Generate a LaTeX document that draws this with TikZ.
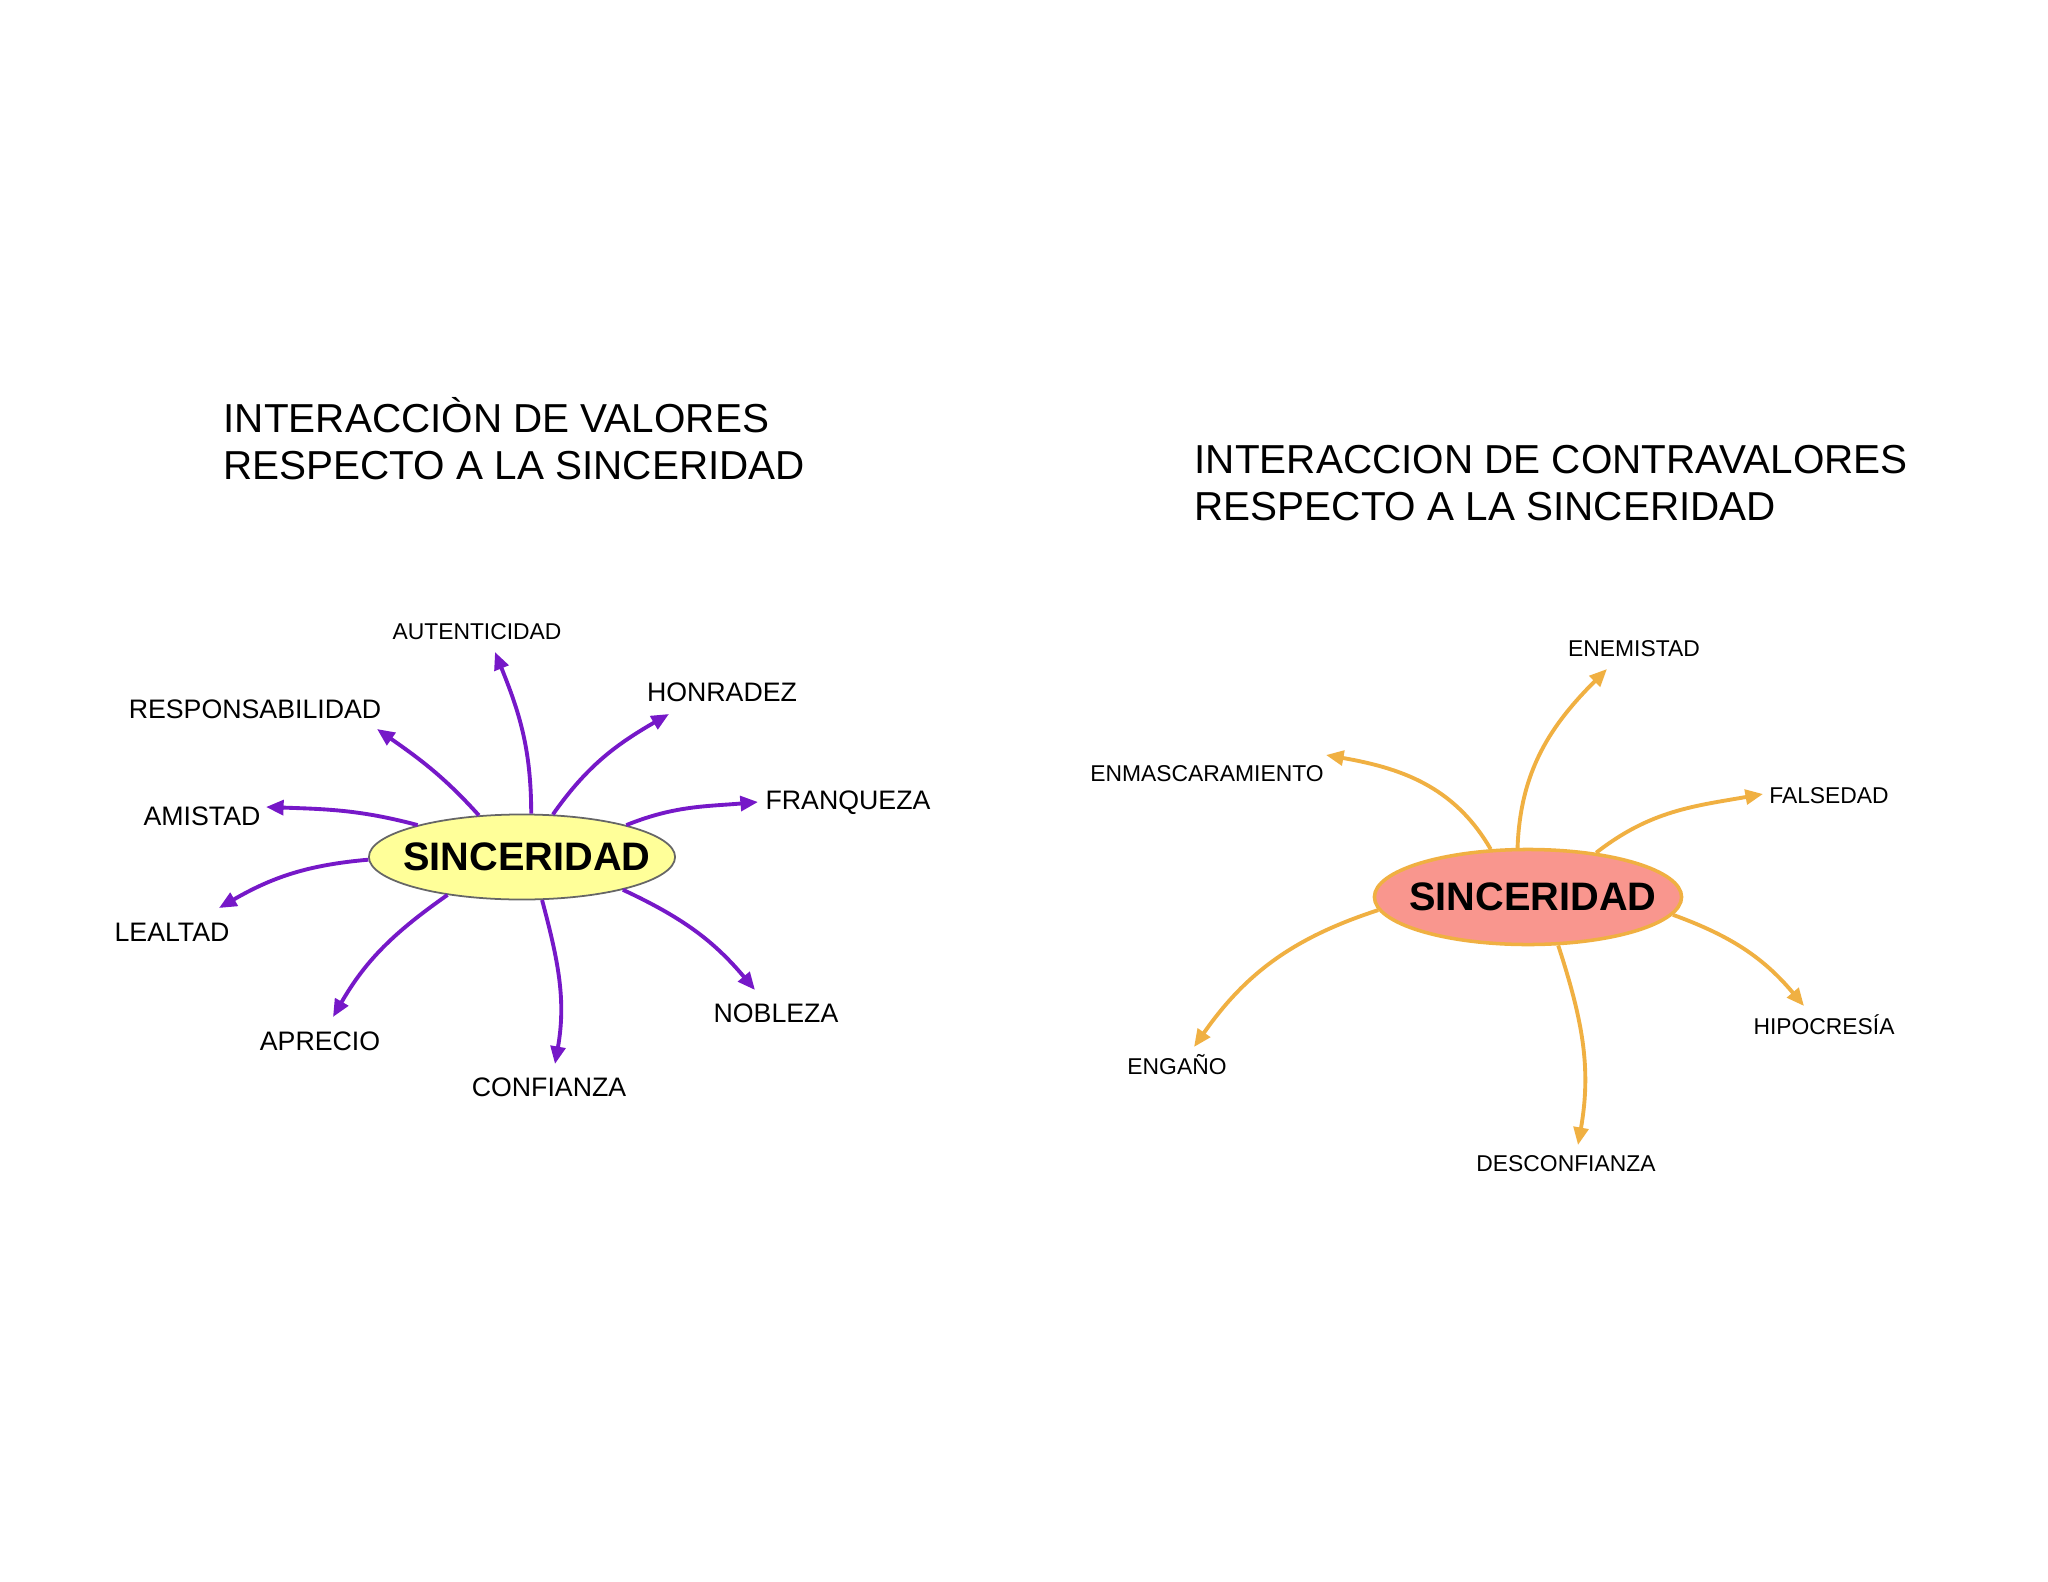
\documentclass[tikz,border=0pt]{standalone}
\usepackage{fontspec}
\setmainfont{Liberation Sans}
\usetikzlibrary{shapes.geometric, arrows.meta}
\definecolor{valpurple}{HTML}{7618C8}
\definecolor{contraorange}{HTML}{F0B042}
\definecolor{coreyellow}{HTML}{FFFF99}
\definecolor{coresalmon}{HTML}{F9968E}

\begin{document}
\begin{tikzpicture}[
        x=0.01cm, y=-0.01cm,
        title/.style={anchor=west, align=left, inner sep=0pt, font=\fontsize{11.5}{13.3}\selectfont},
        valcore/.style={ellipse, draw=black!60, fill=coreyellow, line width=0.5pt, minimum width=3.06cm, minimum height=0.85cm, inner sep=0pt, font=\fontsize{11.3}{13}\selectfont\bfseries},
        contracore/.style={ellipse, draw=contraorange, fill=coresalmon, line width=1pt, minimum width=3.07cm, minimum height=0.95cm, inner sep=0pt, font=\fontsize{11.3}{13}\selectfont\bfseries},
        word/.style={inner sep=0pt, font=\fontsize{7.6}{9}\selectfont},
        smallword/.style={inner sep=0pt, font=\fontsize{6.5}{8}\selectfont},
        valarrow/.style={-{Triangle[length=5pt, width=4.2pt]}, draw=valpurple, line width=1.1pt},
        contraarrow/.style={-{Triangle[length=5pt, width=4.2pt]}, draw=contraorange, line width=1.1pt}
    ]
    \fill[white] (0,0) rectangle (2048,1582);

    % Titles
    \node[title] (valtitle) at (223,439) {INTERACCIÒN DE VALORES\\RESPECTO A LA SINCERIDAD};
    \node[title] (contratitle) at (1194,483) {INTERACCION DE CONTRAVALORES\\RESPECTO A LA SINCERIDAD};

    % Central nodes
    \node[valcore] (sincval) at (522,857) {\makebox[0pt]{\hspace{0.1cm}SINCERIDAD}};
    \node[contracore] (sinccontra) at (1528,897) {\makebox[0pt]{\hspace{0.1cm}SINCERIDAD}};

    % Values
    \node[smallword] (autenticidad) at (477,632) {AUTENTICIDAD};
    \node[word] (honradez) at (722,692) {HONRADEZ};
    \node[word] (responsabilidad) at (255,709) {RESPONSABILIDAD};
    \node[word] (franqueza) at (848,803) {FRANQUEZA};
    \node[word] (amistad) at (202,816) {AMISTAD};
    \node[word] (lealtad) at (172,932) {LEALTAD};
    \node[word] (aprecio) at (320,1041) {APRECIO};
    \node[word] (confianza) at (549,1087) {CONFIANZA};
    \node[word] (nobleza) at (776,1013) {NOBLEZA};

    % Contravalues
    \node[smallword] (enemistad) at (1634,649) {ENEMISTAD};
    \node[smallword] (enmascaramiento) at (1207,774) {ENMASCARAMIENTO};
    \node[smallword] (falsedad) at (1829,796) {FALSEDAD};
    \node[smallword] (hipocresia) at (1824,1025) {HIPOCRESÍA};
    \node[smallword] (engano) at (1177,1065) {ENGAÑO};
    \node[smallword] (desconfianza) at (1566,1164) {DESCONFIANZA};

    % Arrow tips
    \coordinate (autTip) at (495,652);
    \coordinate (honTip) at (669,714);
    \coordinate (respTip) at (377,729);
    \coordinate (franTip) at (758,802);
    \coordinate (amiTip) at (266,807);
    \coordinate (lealTip) at (219,908);
    \coordinate (apreTip) at (333,1017);
    \coordinate (confTip) at (555,1064);
    \coordinate (noblTip) at (755,990);
    \coordinate (enemTip) at (1607,669);
    \coordinate (enmaTip) at (1326,755);
    \coordinate (falsTip) at (1763,794);
    \coordinate (hipoTip) at (1804,1006);
    \coordinate (engaTip) at (1194,1047);
    \coordinate (descTip) at (1578,1145);

    % Value arrows
    \draw[valarrow] (sincval.78) to[out=90, in=-68] (autTip);
    \draw[valarrow] (sincval.54) to[out=55, in=210] (honTip);
    \draw[valarrow] (sincval.136) to[out=132, in=-35] (respTip);
    \draw[valarrow] (sincval.17) to[out=22, in=185] (franTip);
    \draw[valarrow] (sincval.163) to[out=165, in=-2] (amiTip);
    \draw[valarrow] (sincval.181) to[out=185, in=30] (lealTip);
    \draw[valarrow] (sincval.207) to[out=215, in=60] (apreTip);
    \draw[valarrow] (sincval.-65) to[out=-75, in=80] (confTip);
    \draw[valarrow] (sincval.-18) to[out=-25, in=130] (noblTip);

    % Contravalue arrows
    \draw[contraarrow] (sinccontra.102) to[out=88, in=-135] (enemTip);
    \draw[contraarrow] (sinccontra.128) to[out=120, in=-10] (enmaTip);
    \draw[contraarrow] (sinccontra.33) to[out=38, in=190] (falsTip);
    \draw[contraarrow] (sinccontra.-7) to[out=-20, in=130] (hipoTip);
    \draw[contraarrow] (sinccontra.185) to[out=198, in=55] (engaTip);
    \draw[contraarrow] (sinccontra.-58) to[out=-72, in=80] (descTip);
\end{tikzpicture}
\end{document}
